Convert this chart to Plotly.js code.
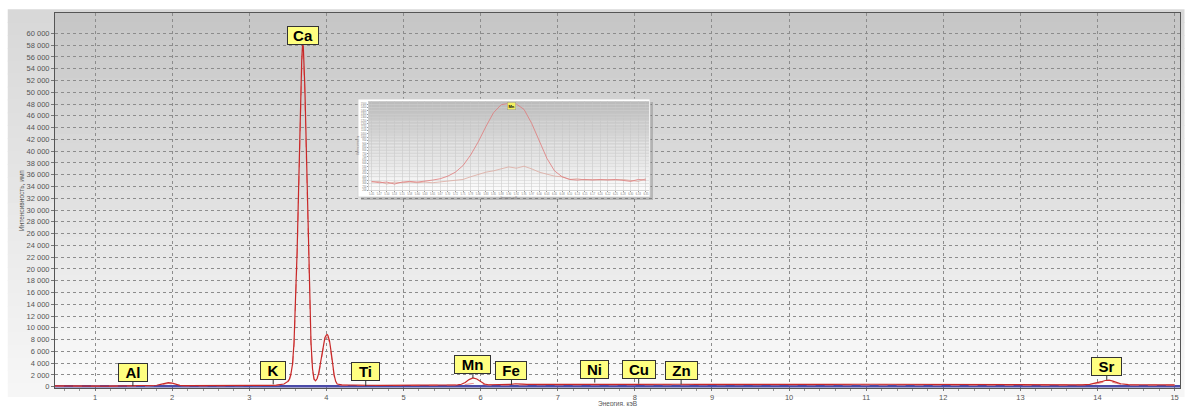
<!DOCTYPE html>
<html><head><meta charset="utf-8">
<script src="https://cdn.plot.ly/plotly-3.0.1.min.js"></script>
<style>html,body{margin:0;padding:0;background:#fff;}#chart{width:1188px;height:406px;}</style>
</head><body><div id="chart"></div>
<script>
// ---- main spectrum (energy, keV) ----
const energy = [
 0.48,0.6,0.8,1.0,1.2,1.4,1.5,1.6,1.7,1.8,
 1.85,1.9,1.95,2.0,2.05,2.1,2.2,2.4,2.6,2.8,
 3.0,3.1,3.2,3.3,3.35,3.4,3.45,3.5,3.52,3.54,
 3.56,3.58,3.60,3.62,3.64,3.66,3.68,3.69,3.70,3.72,
 3.74,3.76,3.78,3.80,3.82,3.84,3.86,3.88,3.90,3.92,
 3.94,3.96,3.98,4.00,4.01,4.02,4.04,4.06,4.08,4.10,
 4.12,4.14,4.2,4.3,4.5,4.7,5.0,5.3,5.5,5.6,
 5.7,5.75,5.8,5.85,5.9,5.95,6.0,6.05,6.1,6.2,
 6.3,6.4,6.45,6.5,6.55,6.6,6.8,7.0,7.2,7.4,
 7.5,7.6,7.8,8.0,8.1,8.2,8.4,8.6,8.8,9.0,
 9.5,10,10.5,11,11.5,12,12.5,13,13.5,13.8,
 13.9,14.0,14.05,14.1,14.15,14.2,14.25,14.3,14.4,14.6,
 15.0];
const countsA = [
 150,120,100,100,110,120,140,150,170,250,
 400,600,700,600,380,220,180,170,180,190,
 200,210,220,240,260,300,450,900,1300,2200,
 3800,7500,14000,23000,34000,46000,55500,58000,57800,51000,
 40000,27000,15500,7500,3000,1300,1000,1400,2300,3700,
 5400,7100,8300,8800,8850,8700,7800,6000,3800,2000,
 900,450,300,260,250,240,240,250,260,280,
 320,420,700,1200,1500,1300,800,450,330,320,
 330,400,500,520,450,400,380,360,370,390,
 400,390,380,400,420,400,390,420,400,390,
 400,380,400,420,400,380,330,300,300,320,
 400,650,850,1050,1100,950,700,500,350,300,
 300];
const countsB = [
 100,90,80,80,90,100,110,120,130,200,
 300,450,550,480,300,180,150,140,150,160,
 170,180,190,200,220,250,380,750,1100,1900,
 3300,6800,13000,22000,33000,45000,54000,56500,56300,49500,
 38500,25500,14500,6800,2600,1100,850,1200,2000,3300,
 5000,6700,7900,8400,8450,8300,7400,5600,3500,1800,
 750,380,250,220,210,200,200,210,220,240,
 260,300,380,480,550,530,420,330,280,270,
 280,320,380,400,360,330,320,310,320,330,
 340,330,320,330,340,330,320,340,330,320,
 330,320,330,340,330,320,280,260,260,280,
 330,520,700,850,900,780,560,400,290,260,
 260];
const blueEnergy = [0.48,1,2,3,4,5,6,7,8,9,10,11,12,13,14,15.07];
const blueCounts = [60,60,70,80,90,90,100,100,100,100,100,100,90,90,90,90];

// ---- inset (Mn region) ----
const insetEnergy = [
 5.450,5.475,5.500,5.525,5.550,5.575,5.600,5.625,5.650,5.675,
 5.700,5.725,5.750,5.775,5.800,5.825,5.850,5.875,5.900,5.925,
 5.950,5.975,6.000,6.025,6.050,6.075,6.100,6.125,6.150,6.175,
 6.200,6.225,6.250,6.275,6.300,6.325,6.350];
const insetA = [
 330,310,320,290,320,330,320,330,350,370,
 410,470,570,730,930,1160,1370,1490,1510,1500,
 1420,1210,950,680,490,400,360,350,360,350,
 360,350,360,350,330,360,350];
const insetB = [
 320,330,290,320,310,320,310,320,310,320,
 330,350,360,400,440,470,490,520,550,530,
 560,520,470,440,410,400,360,370,350,360,
 350,360,350,360,350,330,370];

// ---- labels & ticks ----
const elements = ['Al','K','Ca','Ti','Mn','Fe','Ni','Cu','Zn','Sr'];
const elementEnergy = [1.49,3.31,3.69,4.51,5.90,6.40,7.48,8.05,8.60,14.12];
const elementCounts = [100,400,58000,100,1500,350,700,500,400,1150];
const xTickVals = [1,2,3,4,5,6,7,8,9,10,11,12,13,14,15];
const yTickVals = [0,2000,4000,6000,8000,10000,12000,14000,16000,18000,20000,22000,24000,26000,28000,30000,
 32000,34000,36000,38000,40000,42000,44000,46000,48000,50000,52000,54000,56000,58000,60000];
const xTitle = 'Энергия, кэВ';
const yTitle = 'Интенсивность, имп';

// ---- style ----
const labelOffset = [-14,-14,-10,-15,-13,-14,-13,-14,-14,-13];
const labelWidth = [26,22,28,25,33,28,25,30,29,27];
const M = {l:55, r:8, t:13, b:18};
const W = 1188, H = 406;
const XR = [0.48, 15.07], YR = [-220, 63450];
const X2R = [5.44, 6.36], Y2R = [200, 1545];
const pw = W - M.l - M.r, ph = H - M.t - M.b;
const px2x = p => XR[0] + (p - M.l) / pw * (XR[1] - XR[0]);
const py2y = p => YR[0] + (H - M.b - p) / ph * (YR[1] - YR[0]);
function boxTrace(x0,x1,y0,y1,fill,lineCol,lw){
  return {x:[px2x(x0),px2x(x1),px2x(x1),px2x(x0),px2x(x0)], y:[py2y(y0),py2y(y0),py2y(y1),py2y(y1),py2y(y0)],
    type:'scatter', mode:'lines', fill:'toself', fillcolor:fill, line:{color:lineCol, width:lw}, hoverinfo:'skip'};
}

function grad(c0, c1, n, xref, yref, x0, x1, y0, y1){
  const out = [];
  for(let i=0;i<n;i++){
    const t = i/(n-1);
    const c = c0.map((v,k)=>Math.round(v+(c1[k]-v)*t));
    const ya = y1 - (y1-y0)*i/n, yb = y1 - (y1-y0)*(i+1)/n;
    out.push({type:'rect', xref:xref, yref:yref, x0:x0, x1:x1, y0:yb, y1:ya + (y1-y0)*0.002,
      fillcolor:`rgb(${c[0]},${c[1]},${c[2]})`, line:{width:0}, layer:'below'});
  }
  return out;
}

let shapes = [];
shapes = shapes.concat(grad([216,216,216],[246,246,246],30,'paper','paper',-0.042,1.004,-0.024,1.008));
shapes = shapes.concat(grad([198,198,198],[251,251,251],40,'x domain','y domain',0,1,0,1));
shapes = shapes.concat(grad([188,188,188],[250,250,250],30,'x2','y2',X2R[0],X2R[1],Y2R[0],Y2R[1]));

const annotations = elements.map((el,i)=>({
  x: elementEnergy[i], y: elementCounts[i], xref:'x', yref:'y',
  text: '<b>'+el+'</b>', showarrow:true, arrowhead:0, arrowwidth:1, arrowcolor:'#333',
  ax:0, ay: labelOffset[i], width: labelWidth[i], height:15,
  font:{family:'Liberation Sans, Arial, sans-serif', size:15, color:'#000'},
  bgcolor:'#ffff80', bordercolor:'#333', borderwidth:1, borderpad:1
}));
annotations.push({x:5.91, y:1470, xref:'x2', yref:'y2', text:'<b>Mn</b>', showarrow:false,
  font:{family:'Liberation Sans, Arial, sans-serif', size:4, color:'#000'},
  bgcolor:'#f4f060', bordercolor:'#999', borderwidth:0.5, borderpad:1});
annotations.push({x:0.5, y:-16/ph, xref:'paper', yref:'paper', xanchor:'center', yanchor:'middle',
  text:xTitle, showarrow:false, font:{size:6.5, color:'#555'}});

const traces = [
  boxTrace(361,653,102,200,'rgba(110,110,110,0.35)','rgba(0,0,0,0)',0),
  boxTrace(358,650,99,197,'#ffffff','#d0d0d0',0.8),
  {x:blueEnergy, y:blueCounts, type:'scatter', mode:'lines', line:{color:'#4b4ba8', width:2.5}, hoverinfo:'skip'},
  {x:energy, y:countsB, type:'scatter', mode:'lines', line:{color:'#e98a8a', width:1, dash:'dash'}, hoverinfo:'skip'},
  {x:energy, y:countsA, type:'scatter', mode:'lines', line:{color:'#c82828', width:1.2}, hoverinfo:'skip'},
  {x:insetEnergy, y:insetB, xaxis:'x2', yaxis:'y2', type:'scatter', mode:'lines', line:{color:'#dcaaa0', width:0.8}, hoverinfo:'skip'},
  {x:insetEnergy, y:insetA, xaxis:'x2', yaxis:'y2', type:'scatter', mode:'lines', line:{color:'#e07a7a', width:0.8}, hoverinfo:'skip'}
];

const layout = {
  width:W, height:H,
  margin:{l:M.l, r:M.r, t:M.t, b:M.b, pad:0},
  paper_bgcolor:'#ffffff', plot_bgcolor:'rgba(0,0,0,0)',
  separators:'. ', showlegend:false,
  font:{family:'Liberation Sans, Arial, sans-serif', size:7.5, color:'#555'},
  xaxis:{range:XR, tickmode:'array', tickvals:xTickVals, showgrid:true, gridcolor:'#8c8c8c', griddash:'dot', gridwidth:1,
    zeroline:false, showline:true, linecolor:'#555', linewidth:1, mirror:true, ticks:'outside', ticklen:2, tickcolor:'#777',
    minor:{tickmode:'linear', tick0:0, dtick:0.2, ticks:'outside', ticklen:2, tickcolor:'#999', showgrid:false},
    tickfont:{size:7.5, color:'#555'}},
  yaxis:{range:YR, tickmode:'array', tickvals:yTickVals, tickformat:',d', showgrid:true, gridcolor:'#8c8c8c', griddash:'dot', gridwidth:1,
    zeroline:false, showline:true, linecolor:'#555', linewidth:1, mirror:true, ticks:'outside', ticklen:3, tickcolor:'#777',
    tickfont:{size:7.5, color:'#555'},
    title:{text:yTitle, font:{size:6.5, color:'#555'}, standoff:1}},
  xaxis2:{domain:[0.2787,0.528], anchor:'y2', range:X2R, tick0:5.45, dtick:0.025, tickformat:'.2f', tickangle:0,
    showgrid:true, gridcolor:'#c4c4c4', gridwidth:0.5, zeroline:false, showline:true, linecolor:'#aaa', linewidth:0.5,
    ticks:'outside', ticklen:1, tickcolor:'#999', tickfont:{size:2.6, color:'#777'},
    title:{text:xTitle, font:{size:2.8, color:'#888'}, standoff:0}},
  yaxis2:{domain:[0.528,0.765], anchor:'x2', range:Y2R, tick0:200, dtick:50, tickformat:'d',
    showgrid:true, gridcolor:'#cfcfcf', gridwidth:0.5, zeroline:false, showline:true, linecolor:'#aaa', linewidth:0.5,
    ticks:'outside', ticklen:1, tickcolor:'#999', tickfont:{size:2.6, color:'#777'},
    title:{text:'Интенсивность', font:{size:2.8, color:'#888'}, standoff:1}},
  shapes:shapes,
  annotations:annotations
};

Plotly.newPlot('chart', traces, layout, {staticPlot:true, displayModeBar:false});
</script>
</body></html>
